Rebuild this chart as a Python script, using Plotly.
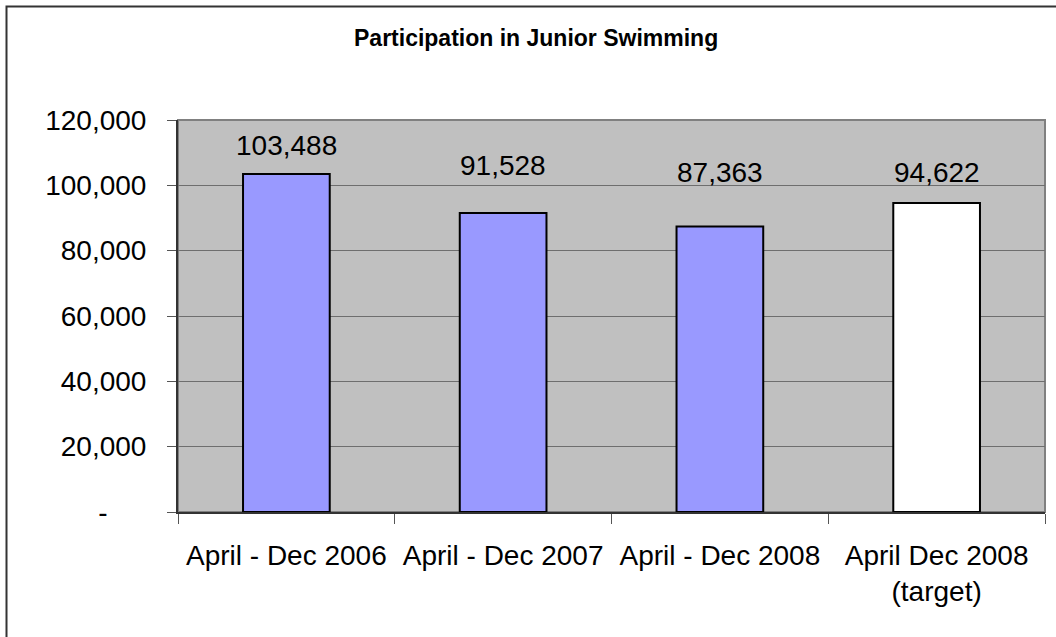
import plotly.graph_objects as go

# Junior swimming participation figures
categories = ["April - Dec 2006", "April - Dec 2007", "April - Dec 2008", "April Dec 2008<br>(target)"]
participants = [103488, 91528, 87363, 94622]
bar_colors = ["#9999FF", "#9999FF", "#9999FF", "#FFFFFF"]

y_tick_values = [0, 20000, 40000, 60000, 80000, 100000, 120000]
y_tick_labels = ["-\u00a0\u00a0\u00a0\u00a0\u00a0", "20,000", "40,000", "60,000", "80,000", "100,000", "120,000"]

# gap in pixels between each bar top and the bottom of its value label
label_gaps = [18, 37, 44, 20]

W, H = 1056, 637
ML, MR, MT, MB = 178, 11, 120, 125
FONT = "Arial, Liberation Sans, sans-serif"

fig = go.Figure(
    go.Bar(
        x=categories,
        y=participants,
        marker=dict(color=bar_colors, line=dict(color="black", width=2)),
        width=0.4,
        hoverinfo="skip",
    )
)

for cat, val, gap in zip(categories, participants, label_gaps):
    fig.add_annotation(
        x=cat, y=val, xref="x", yref="y",
        text=f"{val:,}", showarrow=False,
        yanchor="bottom", yshift=gap - 7,
        font=dict(family=FONT, size=28, color="black"),
    )

# chart title
fig.add_annotation(
    x=(536 - ML) / (W - ML - MR), y=(H - MB - 38) / (H - MT - MB),
    xref="paper", yref="paper", text="<b>Participation in Junior Swimming</b>",
    showarrow=False, xanchor="center", yanchor="middle",
    font=dict(family=FONT, size=23, color="black"),
)

pw, ph = W - ML - MR, H - MT - MB
# outer chart frame
fig.add_shape(
    type="rect", xref="paper", yref="paper",
    x0=(6.5 - ML) / pw, x1=(1070 - ML) / pw,
    y0=(H - MB - 650) / ph, y1=(H - MB - 6.5) / ph,
    line=dict(color="#333333", width=2), fillcolor="rgba(0,0,0,0)", layer="below",
)
# plot area frame
fig.add_shape(
    type="rect", xref="paper", yref="paper", x0=0, x1=1, y0=0, y1=1,
    line=dict(color="#808080", width=2), fillcolor="rgba(0,0,0,0)", layer="below",
)

fig.update_layout(
    width=W, height=H,
    margin=dict(l=ML, r=MR, t=MT, b=MB),
    paper_bgcolor="white",
    plot_bgcolor="#C0C0C0",
    showlegend=False,
    bargap=0.6,
    font=dict(family=FONT, size=28, color="black"),
)
fig.update_xaxes(
    type="category",
    showgrid=False,
    showline=True, linecolor="#333333", linewidth=2,
    ticks="outside", tickson="boundaries", ticklen=10, tickcolor="#555555", tickwidth=1,
    ticklabelstandoff=17,
    tickfont=dict(family=FONT, size=28, color="black"),
)
fig.update_yaxes(
    range=[0, 120000],
    tickvals=y_tick_values, ticktext=y_tick_labels,
    showgrid=True, gridcolor="#6E6E6E", gridwidth=1,
    showline=True, linecolor="#333333", linewidth=2,
    ticks="outside", ticklen=9, tickcolor="#555555", tickwidth=1,
    ticklabelstandoff=15,
    zeroline=False,
    tickfont=dict(family=FONT, size=28, color="black"),
)

fig.write_html("out.html")
